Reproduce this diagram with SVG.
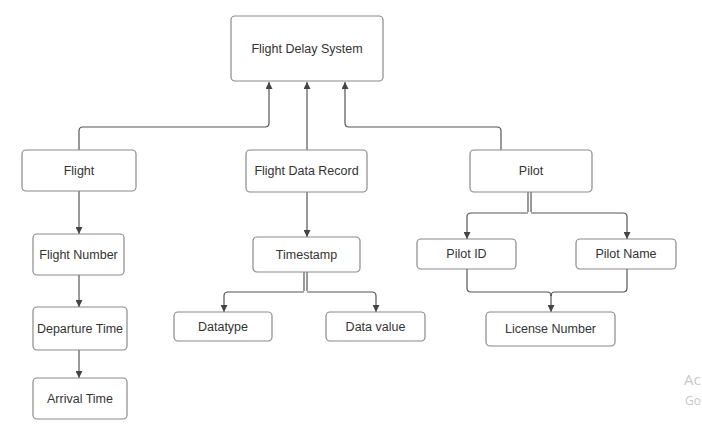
<svg xmlns="http://www.w3.org/2000/svg" width="702" height="432" viewBox="0 0 702 432">
<defs>
<marker id="arr" viewBox="0 0 10 10" refX="10" refY="5" markerWidth="7" markerHeight="7" orient="auto" markerUnits="userSpaceOnUse">
<path d="M0,0 L10,5 L0,10 z" fill="#444"/>
</marker>
<style>
.box{fill:#fff;stroke:#8a8a8a;stroke-width:1.2}
.t{font-family:"Liberation Sans",Arial,sans-serif;font-size:12.5px;fill:#333;text-anchor:middle;dominant-baseline:central}
.c{fill:none;stroke:#555;stroke-width:1.2}
.ca{fill:none;stroke:#555;stroke-width:1.2;marker-end:url(#arr)}
.wm{font-family:"Open Sans","Liberation Sans",sans-serif;fill:#c8c8c8}
</style>
</defs>
<rect width="702" height="432" fill="#fff"/>
<g id="connectors">
<path class="ca" d="M79,150 V131 Q79,127 83,127 H265 Q269,127 269,123 V82"/>
<path class="ca" d="M307,150 V82"/>
<path class="ca" d="M501,150 V131 Q501,127 497,127 H349 Q345,127 345,123 V82"/>
<path class="ca" d="M79,191 V234"/>
<path class="ca" d="M79,275 V307"/>
<path class="ca" d="M79,350 V378"/>
<path class="ca" d="M307,192 V237"/>
<path class="c" d="M304,272 V291 M307,272 V291"/>
<path class="ca" d="M304,292 H228 Q224,292 224,296 V312"/>
<path class="ca" d="M307,292 H372 Q376,292 376,296 V312"/>
<path class="c" d="M528,192 V212 M531,192 V212"/>
<path class="ca" d="M528,213 H471 Q467,213 467,217 V239"/>
<path class="ca" d="M531,213 H623 Q627,213 627,217 V239"/>
<path class="c" d="M467,269 V288 Q467,292 471,292 H547 Q551,292 551,296"/>
<path class="c" d="M627,269 V288 Q627,292 623,292 H555 Q551,292 551,296"/>
<path class="ca" d="M551,295 V312"/>
</g>
<g id="flight-delay-system"><rect class="box" x="231" y="16" width="152" height="65" rx="4"/><text class="t" x="307" y="48.5">Flight Delay System</text></g>
<g id="flight"><rect class="box" x="22" y="150" width="114" height="41" rx="4"/><text class="t" x="79" y="170.5">Flight</text></g>
<g id="flight-number"><rect class="box" x="33" y="234" width="91" height="41" rx="4"/><text class="t" x="78.5" y="254.5">Flight Number</text></g>
<g id="departure-time"><rect class="box" x="33" y="307" width="94" height="43" rx="4"/><text class="t" x="80" y="328.5">Departure Time</text></g>
<g id="arrival-time"><rect class="box" x="33" y="378" width="94" height="41" rx="4"/><text class="t" x="80" y="398.5">Arrival Time</text></g>
<g id="flight-data-record"><rect class="box" x="246" y="150" width="121" height="42" rx="4"/><text class="t" x="306.5" y="171">Flight Data Record</text></g>
<g id="timestamp"><rect class="box" x="253" y="237" width="107" height="35" rx="4"/><text class="t" x="306.5" y="254.5">Timestamp</text></g>
<g id="datatype"><rect class="box" x="174" y="312" width="98" height="29" rx="4"/><text class="t" x="223" y="326.5">Datatype</text></g>
<g id="data-value"><rect class="box" x="326" y="312" width="99" height="29" rx="4"/><text class="t" x="375.5" y="326.5">Data value</text></g>
<g id="pilot"><rect class="box" x="470" y="150" width="122" height="42" rx="4"/><text class="t" x="531" y="171">Pilot</text></g>
<g id="pilot-id"><rect class="box" x="417" y="239" width="99" height="30" rx="4"/><text class="t" x="466.5" y="254">Pilot ID</text></g>
<g id="pilot-name"><rect class="box" x="576" y="239" width="100" height="30" rx="4"/><text class="t" x="626" y="254">Pilot Name</text></g>
<g id="license-number"><rect class="box" x="486" y="312" width="129" height="34" rx="4"/><text class="t" x="550.5" y="329">License Number</text></g>
<text class="wm" x="684" y="385" font-size="15">Ac</text>
<text class="wm" x="685" y="405" font-size="12">Go</text>
</svg>
